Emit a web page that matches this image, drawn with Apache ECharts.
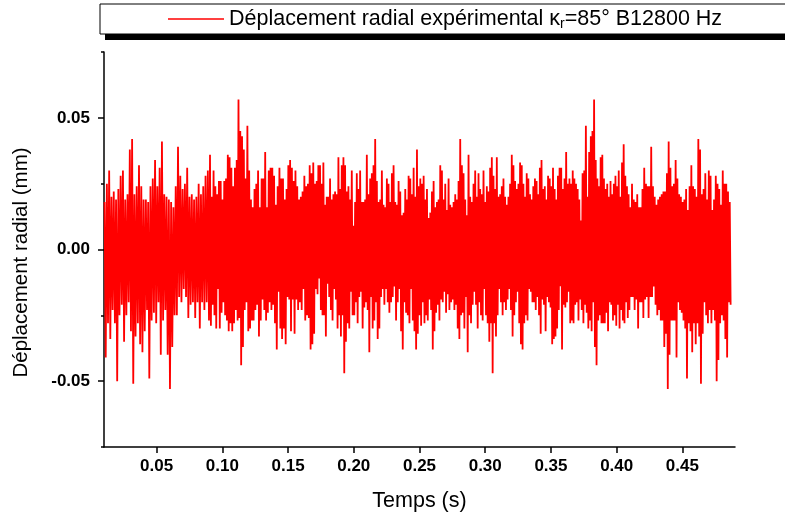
<!DOCTYPE html>
<html><head><meta charset="utf-8">
<script src="https://cdn.jsdelivr.net/npm/echarts@6/dist/echarts.min.js"></script>
<style>html,body{margin:0;padding:0;background:#fff}#chart{width:785px;height:517px}</style>
</head><body><div id="chart"></div>
<script>
const seriesName = 'Déplacement radial expérimental κr=85° B12800 Hz';
const xMajorTicks = [0.05, 0.10, 0.15, 0.20, 0.25, 0.30, 0.35, 0.40, 0.45];
const xMinorTicks = [0.025, 0.075, 0.125, 0.175, 0.225, 0.275, 0.325, 0.375, 0.425, 0.475];
const yMajorTicks = [-0.05, 0, 0.05];
const yMinorTicks = [-0.075, -0.025, 0.025, 0.075];

// time boundaries (s) of the blocks of readings below
const segmentBounds = [0.0100, 0.0903, 0.1702, 0.2503, 0.3300, 0.4100, 0.4870];

// upper / lower peaks of the displacement (mm)
const upper1 = [0.018,0.025,0.030,0.020,0.022,0.019,0.023,0.028,0.030,0.019,0.021,0.038,0.042,0.021,0.024,0.032,0.024,0.019,0.019,0.018,0.024,0.027,0.034,0.024,0.031,0.041,0.021,0.020,0.019,0.018,0.016,0.024,0.039,0.028,0.023,0.025,0.031,0.020,0.021,0.019,0.020,0.025,0.021,0.024,0.028,0.030];
const lower1 = [-0.041,-0.028,-0.034,-0.023,-0.028,-0.050,-0.025,-0.021,-0.035,-0.025,-0.020,-0.031,-0.051,-0.033,-0.028,-0.036,-0.039,-0.031,-0.023,-0.049,-0.027,-0.024,-0.028,-0.020,-0.040,-0.027,-0.023,-0.040,-0.053,-0.037,-0.025,-0.025,-0.018,-0.020,-0.015,-0.018,-0.026,-0.021,-0.020,-0.026,-0.020,-0.030,-0.020,-0.023,-0.020,-0.027];
const upper2 = [0.036,0.020,0.030,0.024,0.021,0.026,0.026,0.019,0.026,0.027,0.036,0.035,0.031,0.024,0.031,0.034,0.057,0.045,0.043,0.038,0.027,0.047,0.030,0.019,0.016,0.023,0.025,0.030,0.016,0.027,0.027,0.037,0.016,0.030,0.031,0.031,0.028,0.017,0.024,0.031,0.027,0.027,0.019,0.023,0.032,0.034,0.031,0.026,0.030,0.024,0.019,0.020,0.022,0.028,0.024,0.025,0.032,0.029,0.033];
const lower2 = [-0.029,-0.021,-0.025,-0.030,-0.015,-0.030,-0.024,-0.020,-0.025,-0.027,-0.031,-0.028,-0.031,-0.028,-0.023,-0.027,-0.026,-0.044,-0.037,-0.023,-0.020,-0.031,-0.030,-0.027,-0.027,-0.023,-0.021,-0.033,-0.027,-0.019,-0.023,-0.027,-0.024,-0.020,-0.023,-0.021,-0.028,-0.038,-0.016,-0.030,-0.034,-0.030,-0.036,-0.018,-0.019,-0.031,-0.019,-0.032,-0.019,-0.023,-0.020,-0.023,-0.015,-0.027,-0.025,-0.026,-0.038,-0.036,-0.032];
const upper3 = [0.025,0.026,0.032,0.032,0.025,0.033,0.017,0.020,0.020,0.027,0.019,0.021,0.022,0.021,0.035,0.023,0.032,0.035,0.032,0.022,0.024,0.019,0.030,0.009,0.018,0.029,0.023,0.030,0.018,0.018,0.019,0.036,0.021,0.027,0.029,0.032,0.042,0.026,0.018,0.019,0.030,0.017,0.016,0.027,0.025,0.018,0.029,0.032,0.018,0.017,0.026,0.022,0.013,0.014,0.023,0.019,0.028,0.027,0.021,0.031,0.020,0.038,0.024];
const lower3 = [-0.015,-0.017,-0.011,-0.023,-0.025,-0.025,-0.033,-0.013,-0.018,-0.023,-0.027,-0.015,-0.019,-0.030,-0.025,-0.033,-0.025,-0.047,-0.035,-0.028,-0.030,-0.016,-0.025,-0.025,-0.020,-0.028,-0.018,-0.016,-0.030,-0.022,-0.020,-0.023,-0.039,-0.018,-0.030,-0.027,-0.020,-0.034,-0.030,-0.018,-0.015,-0.021,-0.015,-0.020,-0.024,-0.020,-0.018,-0.014,-0.027,-0.020,-0.015,-0.031,-0.038,-0.020,-0.024,-0.025,-0.028,-0.015,-0.027,-0.031,-0.038,-0.032,-0.025];
const upper4 = [0.027,0.025,0.028,0.019,0.023,0.012,0.014,0.022,0.026,0.016,0.018,0.019,0.032,0.030,0.019,0.025,0.015,0.027,0.017,0.016,0.018,0.021,0.019,0.026,0.042,0.032,0.029,0.019,0.013,0.036,0.020,0.018,0.025,0.030,0.020,0.029,0.023,0.021,0.030,0.018,0.024,0.022,0.031,0.035,0.028,0.023,0.035,0.020,0.021,0.024,0.027,0.020,0.017,0.020,0.025,0.036,0.032,0.026,0.023,0.025,0.033,0.032,0.025];
const lower4 = [-0.029,-0.020,-0.028,-0.025,-0.027,-0.019,-0.023,-0.038,-0.031,-0.024,-0.021,-0.027,-0.019,-0.020,-0.016,-0.024,-0.017,-0.023,-0.020,-0.019,-0.023,-0.021,-0.030,-0.034,-0.025,-0.024,-0.030,-0.018,-0.039,-0.025,-0.028,-0.021,-0.016,-0.021,-0.030,-0.020,-0.025,-0.027,-0.015,-0.025,-0.028,-0.035,-0.028,-0.047,-0.028,-0.033,-0.025,-0.015,-0.020,-0.025,-0.020,-0.023,-0.019,-0.015,-0.023,-0.033,-0.025,-0.020,-0.016,-0.028,-0.036,-0.038,-0.028];
const upper5 = [0.020,0.029,0.027,0.021,0.019,0.024,0.027,0.026,0.021,0.031,0.034,0.023,0.024,0.019,0.028,0.027,0.024,0.031,0.023,0.019,0.028,0.031,0.031,0.023,0.027,0.037,0.025,0.027,0.025,0.030,0.027,0.025,0.023,0.019,0.011,0.029,0.030,0.047,0.020,0.037,0.043,0.045,0.057,0.034,0.027,0.024,0.035,0.036,0.027,0.023,0.025,0.020,0.026,0.021,0.025,0.028,0.024,0.030,0.020,0.033,0.040,0.028,0.024,0.021];
const lower5 = [-0.025,-0.027,-0.015,-0.016,-0.020,-0.020,-0.023,-0.018,-0.025,-0.032,-0.019,-0.021,-0.031,-0.018,-0.020,-0.022,-0.036,-0.034,-0.033,-0.030,-0.023,-0.014,-0.038,-0.021,-0.022,-0.020,-0.016,-0.028,-0.027,-0.028,-0.021,-0.020,-0.027,-0.019,-0.023,-0.028,-0.021,-0.024,-0.030,-0.027,-0.031,-0.020,-0.037,-0.044,-0.027,-0.025,-0.028,-0.028,-0.028,-0.024,-0.031,-0.020,-0.021,-0.027,-0.025,-0.029,-0.021,-0.030,-0.023,-0.027,-0.028,-0.020,-0.026,-0.023];
const upper6 = [0.016,0.025,0.019,0.018,0.021,0.016,0.016,0.023,0.031,0.025,0.024,0.024,0.039,0.024,0.020,0.017,0.019,0.020,0.021,0.022,0.022,0.029,0.041,0.031,0.024,0.025,0.034,0.027,0.021,0.020,0.018,0.019,0.023,0.015,0.024,0.032,0.024,0.023,0.020,0.042,0.038,0.021,0.023,0.029,0.019,0.030,0.028,0.015,0.019,0.028,0.025,0.023,0.017,0.030,0.025,0.025,0.022,0.018];
const lower6 = [-0.018,-0.018,-0.023,-0.019,-0.030,-0.020,-0.020,-0.026,-0.019,-0.018,-0.026,-0.018,-0.018,-0.014,-0.021,-0.025,-0.023,-0.027,-0.027,-0.037,-0.032,-0.053,-0.040,-0.027,-0.027,-0.027,-0.041,-0.020,-0.023,-0.024,-0.027,-0.030,-0.049,-0.028,-0.031,-0.039,-0.028,-0.036,-0.028,-0.033,-0.051,-0.032,-0.020,-0.025,-0.028,-0.023,-0.028,-0.023,-0.027,-0.050,-0.042,-0.028,-0.025,-0.027,-0.034,-0.041,-0.020,-0.021];

const uppers = [upper1, upper2, upper3, upper4, upper5, upper6];
const lowers = [lower1, lower2, lower3, lower4, lower5, lower6];

const data = [];
for (let s = 0; s < uppers.length; s++) {
  const vals = [];
  const n = Math.max(uppers[s].length, lowers[s].length);
  for (let i = 0; i < n; i++) {
    if (i < uppers[s].length) vals.push(uppers[s][i]);
    if (i < lowers[s].length) vals.push(lowers[s][i]);
  }
  const t0 = segmentBounds[s], t1 = segmentBounds[s + 1];
  const step = (t1 - t0) / vals.length;
  vals.forEach(function (v, k) { data.push([t0 + (k + 0.5) * step, v]); });
}

const FONT = '"Liberation Sans", Arial, sans-serif';
const chart = echarts.init(document.getElementById('chart'), null, {renderer: 'canvas'});
chart.setOption({
  animation: false,
  backgroundColor: '#fff',
  grid: {left: 104, right: 50, top: 52, bottom: 69, containLabel: false},
  graphic: [{
    type: 'rect', left: 105, top: 9, z: 0,
    shape: {width: 700, height: 31},
    style: {fill: '#000'}
  }],
  legend: {
    left: 100, top: 4, z: 10,
    padding: [4, 200, 3, 68],
    itemWidth: 56, itemHeight: 1.5, icon: 'rect',
    backgroundColor: '#fff', borderColor: '#000', borderWidth: 1,
    formatter: function () { return '{a|Déplacement radial expérimental κ}{s|r}{a|=85° B12800 Hz}'; },
    textStyle: {
      fontFamily: FONT, fontSize: 21.5, color: '#000',
      rich: {
        a: {fontFamily: FONT, fontSize: 21.5, color: '#000', lineHeight: 24},
        s: {fontFamily: FONT, fontSize: 14, color: '#000', lineHeight: 8, verticalAlign: 'bottom'}
      }
    }
  },
  xAxis: [{
    type: 'value', min: 0.01, max: 0.49, position: 'bottom',
    axisLine: {show: true, onZero: false, lineStyle: {color: '#000', width: 1.5}},
    axisTick: {show: true, customValues: xMajorTicks, length: 6, lineStyle: {color: '#000', width: 1.5}},
    axisLabel: {customValues: xMajorTicks, formatter: function (v) { return v.toFixed(2); },
      fontFamily: FONT, fontSize: 17, fontWeight: 'bold', color: '#000', margin: 11},
    splitLine: {show: false},
    name: 'Temps (s)', nameLocation: 'middle', nameGap: 43,
    nameTextStyle: {fontFamily: FONT, fontSize: 21.5, color: '#000'}
  }, {
    type: 'value', min: 0.01, max: 0.49, position: 'bottom',
    axisLine: {show: false},
    axisTick: {show: true, customValues: xMinorTicks, length: 3, lineStyle: {color: '#000', width: 1.5}},
    axisLabel: {show: false},
    splitLine: {show: false}
  }],
  yAxis: [{
    type: 'value', min: -0.075, max: 0.075, position: 'left',
    axisLine: {show: true, onZero: false, lineStyle: {color: '#000', width: 1.5}},
    axisTick: {show: true, customValues: yMajorTicks, length: 6, lineStyle: {color: '#000', width: 1.5}},
    axisLabel: {customValues: yMajorTicks, formatter: function (v) { return (Math.abs(v) < 1e-9 ? 0 : v).toFixed(2); },
      fontFamily: FONT, fontSize: 17, fontWeight: 'bold', color: '#000', margin: 14},
    splitLine: {show: false},
    name: 'Déplacement radial (mm)', nameLocation: 'middle', nameGap: 72,
    nameTextStyle: {fontFamily: FONT, fontSize: 20.5, color: '#000', padding: [0, 26, 0, 0]}
  }, {
    type: 'value', min: -0.075, max: 0.075, position: 'left',
    axisLine: {show: false},
    axisTick: {show: true, customValues: yMinorTicks, length: 3, lineStyle: {color: '#000', width: 1.5}},
    axisLabel: {show: false},
    splitLine: {show: false}
  }],
  series: [{
    type: 'line', name: seriesName, data: data,
    xAxisIndex: 0, yAxisIndex: 0,
    showSymbol: false, symbol: 'none',
    lineStyle: {color: '#ff0000', width: 1.8},
    itemStyle: {color: '#ff0000'}
  }]
});
</script>
</body></html>
